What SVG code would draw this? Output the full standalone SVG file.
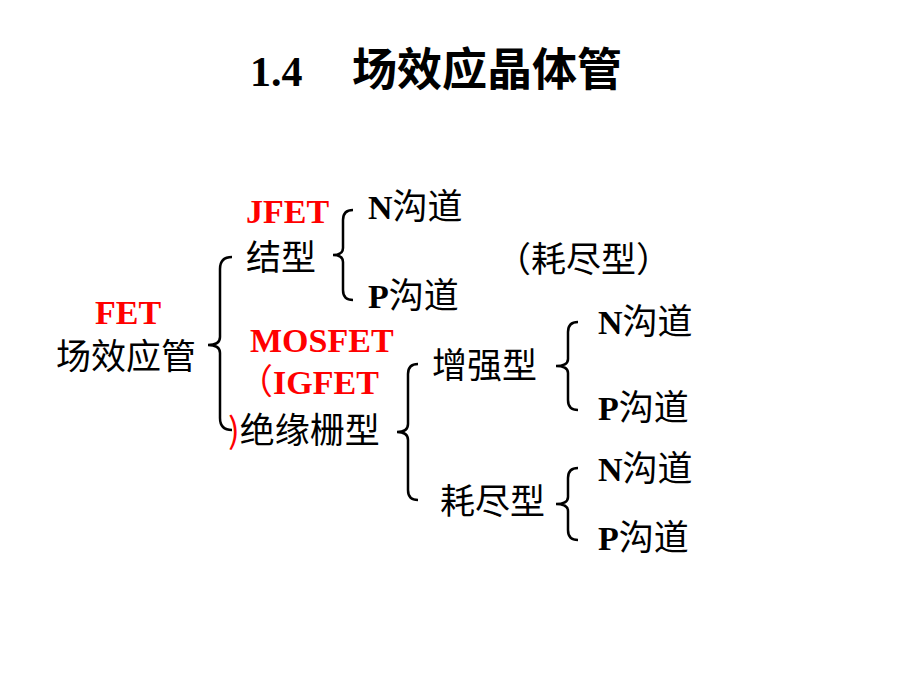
<svg xmlns="http://www.w3.org/2000/svg" width="920" height="690" viewBox="0 0 920 690">
<style>
.t{font-family:"Liberation Serif","Noto Sans CJK SC",serif;font-size:34px;fill:#000}
.b{font-weight:bold}
.r{fill:#ff0000}
.c{font-family:"Noto Sans CJK SC",sans-serif;font-size:35px}
.br{fill:none;stroke:#000;stroke-width:2.5}
</style>
<rect width="920" height="690" fill="#fff"/>
<text x="250" y="86" class="t b" style="font-size:42px">1.4</text>
<text x="352" y="86" class="t b c" style="font-size:45px">场效应晶体管</text>
<g id="fet"><text x="95" y="324" class="t b r">FET</text><text x="56" y="369" class="t c">场效应管</text></g>
<g id="jfet"><text x="246" y="223" class="t b r">JFET</text><text x="246" y="270" class="t c">结型</text></g>
<g id="mosfet"><text x="250" y="352" class="t b r">MOSFET</text><text x="238" y="394" class="t b r"><tspan class="c" style="font-weight:normal">（</tspan>IGFET</text><text x="228" y="443" class="t"><tspan class="r c">)</tspan><tspan class="c">绝缘栅型</tspan></text></g>
<g id="jn"><text x="368" y="219" class="t b">N<tspan class="c" style="font-weight:normal">沟道</tspan></text></g>
<g id="jp"><text x="368" y="308" class="t b">P<tspan class="c" style="font-weight:normal">沟道</tspan></text></g>
<g id="dep-note"><text x="496" y="272" class="t c">（耗尽型）</text></g>
<g id="enh"><text x="432" y="378" class="t c">增强型</text></g>
<g id="dep"><text x="440" y="514" class="t c">耗尽型</text></g>
<g id="en"><text x="598" y="334" class="t b">N<tspan class="c" style="font-weight:normal">沟道</tspan></text></g>
<g id="ep"><text x="598" y="420" class="t b">P<tspan class="c" style="font-weight:normal">沟道</tspan></text></g>
<g id="dn"><text x="598" y="481" class="t b">N<tspan class="c" style="font-weight:normal">沟道</tspan></text></g>
<g id="dp"><text x="598" y="550" class="t b">P<tspan class="c" style="font-weight:normal">沟道</tspan></text></g>
<g id="connectors">
<path class="br" d="M232,257 Q220,257 220,269 L220,337 Q220,345 208,345 Q220,345 220,353 L220,418 Q220,430 232,430"/>
<path class="br" d="M353,210 Q343,210 343,220 L343,248 Q343,255 333,255 Q343,255 343,262 L343,290 Q343,300 353,300"/>
<path class="br" d="M418,364 Q408,364 408,374 L408,424 Q408,432 397,432 Q408,432 408,440 L408,490 Q408,500 418,500"/>
<path class="br" d="M578,322 Q568,322 568,332 L568,359 Q568,366 556,366 Q568,366 568,373 L568,400 Q568,410 578,410"/>
<path class="br" d="M578,468 Q568,468 568,478 L568,497 Q568,504 556,504 Q568,504 568,511 L568,530 Q568,540 578,540"/>
</g>
</svg>
